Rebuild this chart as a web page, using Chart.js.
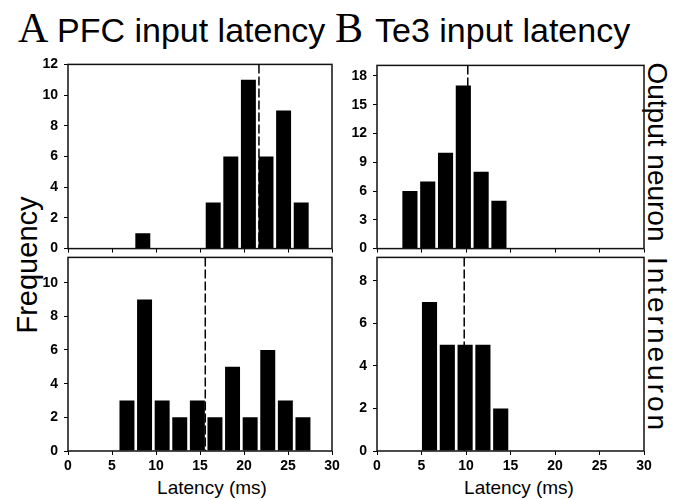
<!DOCTYPE html>
<html>
<head>
<meta charset="utf-8">
<script src="https://cdn.jsdelivr.net/npm/chart.js@4.4.0/dist/chart.umd.min.js"></script>
<style>
  body { margin: 0; background: #fff; }
  #wrap { position: relative; width: 673px; height: 500px; overflow: hidden; font-family: "Liberation Sans", Arial, sans-serif; color: #000; }
  canvas { position: absolute; }
  .lbl { position: absolute; white-space: nowrap; line-height: 1; }
  .serif { font-family: "Liberation Serif", "Times New Roman", serif; }
  .rot { transform: translate(-50%, -50%) rotate(-90deg); }
  .rotR { transform: translate(-50%, -50%) rotate(90deg); }
  .ctr { transform: translate(-50%, -50%); }
</style>
</head>
<body>
<div id="wrap">
  <div class="lbl serif" style="left:18px; top:7px; font-size:42px;">A</div>
  <div class="lbl" style="left:57px; top:13px; font-size:34px;">PFC input latency</div>
  <div class="lbl serif" style="left:335px; top:7px; font-size:42px;">B</div>
  <div class="lbl" style="left:375px; top:13px; font-size:34px;">Te3 input latency</div>

  <div class="lbl rot" style="left:27px; top:265px; font-size:29px;">Frequency</div>
  <div class="lbl rotR" style="left:657px; top:152px; font-size:28px;">Output neuron</div>
  <div class="lbl rotR" style="left:657px; top:345px; font-size:28px; letter-spacing:3px;">Interneuron</div>

  <div class="lbl ctr" style="left:212px; top:487px; font-size:19px;">Latency (ms)</div>
  <div class="lbl ctr" style="left:519px; top:487px; font-size:19px;">Latency (ms)</div>

  <canvas id="pfcOut"></canvas>
  <canvas id="pfcInter"></canvas>
  <canvas id="te3Out"></canvas>
  <canvas id="te3Inter"></canvas>
</div>

<script>
// Data (bin centres in ms, counts per bin)
const xTicks = [0, 5, 10, 15, 20, 25, 30];

const pfcOutBins = [8.5, 16.5, 18.5, 20.5, 22.5, 24.5, 26.5];
const pfcOutCounts = [1, 3, 6, 11, 6, 9, 3];
const pfcOutMedian = 21.7;

const pfcInterBins = [6.7, 8.7, 10.7, 12.7, 14.7, 16.7, 18.7, 20.7, 22.7, 24.7, 26.7];
const pfcInterCounts = [3, 9, 3, 2, 3, 2, 5, 2, 6, 3, 2];
const pfcInterMedian = 15.6;

const te3OutBins = [3.7, 5.7, 7.7, 9.7, 11.7, 13.7];
const te3OutCounts = [6, 7, 10, 17, 8, 5];
const te3OutMedian = 10.2;

const te3InterBins = [5.9, 7.9, 9.9, 11.9, 13.9];
const te3InterCounts = [7, 5, 5, 5, 2];
const te3InterMedian = 9.8;


// box + dashed median line
const framePlugin = {
  id: "frame",
  afterDatasetsDraw(chart, args, opts) {
    const { ctx, chartArea: a, scales } = chart;
    const x = scales.x.getPixelForValue(opts.median);
    ctx.save();
    ctx.strokeStyle = "#000";
    ctx.lineWidth = 1.5;
    ctx.setLineDash([9, 3]);
    ctx.beginPath();
    ctx.moveTo(x, a.top);
    ctx.lineTo(x, a.bottom);
    ctx.stroke();
    ctx.setLineDash([]);
    ctx.strokeStyle = "#111";
    ctx.strokeRect(a.left, a.top, a.right - a.left, a.bottom - a.top);
    ctx.restore();
  },
};

const PAD_L = 60, PAD_T = 12, PAD_R = 12;

function makePanel(id, box, bins, counts, median, yMax, yStep, showX) {
  const xh = showX ? 49 : 8;
  const w = Math.round(box.r - box.l + PAD_L + PAD_R);
  const h = Math.round(box.b - box.t + PAD_T + xh);
  const cv = document.getElementById(id);
  cv.width = w;
  cv.height = h;
  cv.style.width = w + "px";
  cv.style.height = h + "px";
  cv.style.left = (box.l - PAD_L) + "px";
  cv.style.top = (box.t - PAD_T) + "px";

  const tickFont = { family: "'Liberation Sans', Arial, sans-serif", size: 14, weight: "bold" };

  return new Chart(cv.getContext("2d"), {
    type: "bar",
    data: {
      datasets: [{
        data: bins.map((b, i) => ({ x: b, y: counts[i] })),
        backgroundColor: "#000",
        borderWidth: 0,
        barPercentage: 0.85,
        categoryPercentage: 1,
      }],
    },
    options: {
      responsive: false,
      animation: false,
      layout: { padding: { left: 0, top: PAD_T, right: PAD_R, bottom: 0 } },
      plugins: {
        legend: { display: false },
        tooltip: { enabled: false },
        frame: { median },
      },
      scales: {
        x: {
          type: "linear",
          min: 0,
          max: 30,
          offset: false,
          afterBuildTicks: (s) => { s.ticks = xTicks.map((v) => ({ value: v })); },
          afterFit: (s) => { s.height = xh; },
          grid: { offset: false, drawOnChartArea: false, drawTicks: true, tickLength: 4, color: "#000" },
          border: { display: false },
          ticks: { display: showX, color: "#000", font: tickFont, padding: 3, maxRotation: 0 },
        },
        y: {
          min: 0,
          max: yMax,
          afterFit: (s) => { s.width = PAD_L; },
          grid: { drawOnChartArea: false, drawTicks: true, tickLength: 4, color: "#000" },
          border: { display: false },
          ticks: { stepSize: yStep, includeBounds: false, color: "#000", font: tickFont, padding: 6 },
        },
      },
    },
    plugins: [framePlugin],
  });
}

makePanel("pfcOut",   { l: 67.5, t: 62, r: 331, b: 255 }, pfcOutBins, pfcOutCounts, pfcOutMedian, 12, 2, false);
makePanel("pfcInter", { l: 67.5, t: 255, r: 331, b: 451 }, pfcInterBins, pfcInterCounts, pfcInterMedian, 11.5, 2, true);
makePanel("te3Out",   { l: 376.5, t: 63, r: 643, b: 255 }, te3OutBins, te3OutCounts, te3OutMedian, 19.1, 3, false);
makePanel("te3Inter", { l: 376.5, t: 255, r: 643, b: 451 }, te3InterBins, te3InterCounts, te3InterMedian, 9.1, 2, true);
</script>
</body>
</html>
